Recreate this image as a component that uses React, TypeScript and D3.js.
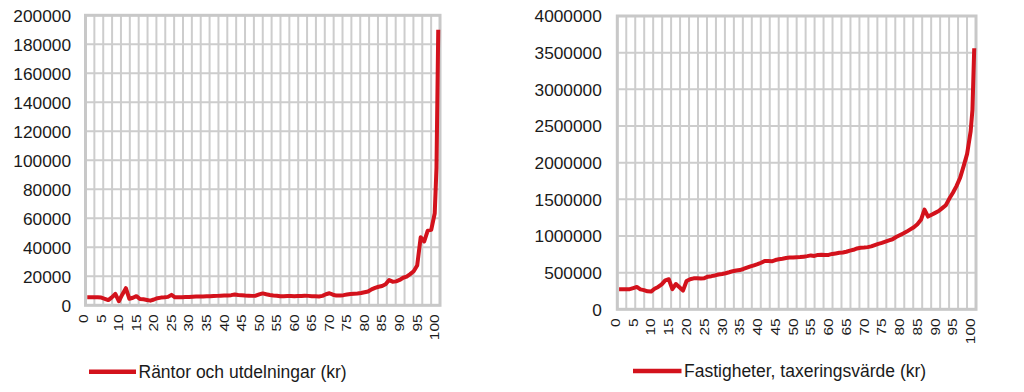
import React from 'react';
import * as d3 from 'd3';

const percentiles = [
  0, 1, 2, 3, 4, 5, 6, 7, 8, 9, 10, 11, 12, 13, 14, 15, 16, 17, 18, 19,
  20, 21, 22, 23, 24, 25, 26, 27, 28, 29, 30, 31, 32, 33, 34, 35, 36, 37, 38, 39,
  40, 41, 42, 43, 44, 45, 46, 47, 48, 49, 50, 51, 52, 53, 54, 55, 56, 57, 58, 59,
  60, 61, 62, 63, 64, 65, 66, 67, 68, 69, 70, 71, 72, 73, 74, 75, 76, 77, 78, 79,
  80, 81, 82, 83, 84, 85, 86, 87, 88, 89, 90, 91, 92, 93, 94, 95, 96, 97, 98, 99,
  99.5, 100,
];

const rantorValues = [
  5500, 5500, 5500, 5500, 5300, 4500, 3600, 5500, 7800, 2800,
  7500, 11800, 4500, 5200, 6300, 4300, 4200, 3700, 3200, 4000,
  4900, 5300, 5500, 5800, 7200, 5500, 5500, 5600, 5700, 5800,
  5900, 6000, 6000, 6100, 6200, 6300, 6400, 6500, 6600, 6700,
  6800, 7000, 7400, 7100, 6900, 6700, 6600, 6500, 6600, 7500,
  8200, 7600, 7100, 6800, 6600, 6200, 6300, 6400, 6400, 6300,
  6400, 6400, 6600, 6500, 6300, 6200, 6100, 6500, 7600, 8300,
  7300, 6700, 6800, 7000, 7400, 7800, 8000, 8200, 8500, 9000,
  9500, 11000, 12000, 12800, 13300, 14500, 17400, 16300, 16500, 17500,
  19000, 19800, 21500, 23500, 27500, 47000, 44000, 51500, 52000, 63500,
  95000, 190000,
];

const fastighetValues = [
  275000, 275000, 275000, 275000, 290000, 305000, 272000, 262000, 245000, 242000,
  280000, 305000, 340000, 395000, 410000, 275000, 345000, 300000, 255000, 385000,
  410000, 422000, 422000, 420000, 425000, 445000, 452000, 462000, 475000, 482000,
  492000, 505000, 520000, 530000, 535000, 550000, 568000, 585000, 600000, 615000,
  635000, 660000, 660000, 655000, 672000, 682000, 690000, 700000, 705000, 705000,
  710000, 712000, 718000, 725000, 735000, 728000, 742000, 745000, 742000, 742000,
  755000, 762000, 770000, 775000, 785000, 800000, 812000, 830000, 840000, 842000,
  848000, 858000, 875000, 892000, 905000, 922000, 940000, 955000, 985000, 1010000,
  1035000, 1060000, 1090000, 1120000, 1160000, 1220000, 1360000, 1265000, 1290000, 1315000,
  1340000, 1380000, 1420000, 1510000, 1590000, 1680000, 1790000, 1950000, 2120000, 2430000,
  2720000, 3560000,
];

const xTickLabels = [0, 5, 10, 15, 20, 25, 30, 35, 40, 45, 50, 55, 60, 65, 70, 75, 80, 85, 90, 95, 100];
const rantorYTicks = [0, 20000, 40000, 60000, 80000, 100000, 120000, 140000, 160000, 180000, 200000];
const fastighetYTicks = [0, 500000, 1000000, 1500000, 2000000, 2500000, 3000000, 3500000, 4000000];
const rantorLegend = 'Räntor och utdelningar (kr)';
const fastighetLegend = 'Fastigheter, taxeringsvärde (kr)';

const FONT = '"Liberation Sans", Arial, sans-serif';
const RED = '#d3121c';
const GRID = '#cdcdcd';
const TEXT = '#1a1a1a';

type PanelProps = {
  left: number; right: number; top: number; bottom: number;
  yTicks: number[]; values: number[];
  labelGap: number;
  legendX1: number; legendX2: number; legendLineY: number; legendTextY: number;
  legend: string;
};

function Panel(p: PanelProps) {
  const x = d3.scaleLinear().domain([-0.5, 100.5]).range([p.left, p.right]);
  const yMax = p.yTicks[p.yTicks.length - 1];
  const y = d3.scaleLinear().domain([0, yMax]).range([p.bottom, p.top]);
  const line = d3.line<number>()
    .x((_, i) => x(percentiles[i]))
    .y((d) => y(d));
  const nV = 40;
  const vGrid = d3.range(nV + 1).map((k) => -0.5 + (k * 101) / nV);
  return (
    <g>
      {vGrid.map((v, i) => (
        <line key={'v' + i} x1={x(v)} x2={x(v)} y1={p.top} y2={p.bottom} stroke={GRID} strokeWidth={2} />
      ))}
      {p.yTicks.map((t, i) => (
        <line key={'h' + i} x1={p.left} x2={p.right} y1={y(t)} y2={y(t)} stroke={GRID} strokeWidth={2} />
      ))}
      <rect x={p.left} y={p.top} width={p.right - p.left} height={p.bottom - p.top}
        fill="none" stroke="#c8c8c8" strokeWidth={3} />
      <path d={line(p.values) || ''} fill="none" stroke={RED} strokeWidth={4}
        strokeLinejoin="round" strokeLinecap="butt" />
      {p.yTicks.map((t, i) => (
        <text key={'yl' + i} x={p.left - p.labelGap} y={y(t)} dy="0.36em" textAnchor="end"
          fontFamily={FONT} fontSize={17.3} fill={TEXT}>{String(t)}</text>
      ))}
      {xTickLabels.map((t, i) => (
        <text key={'xl' + i}
          transform={`translate(${x(t) - 3.8},${p.bottom + 9}) rotate(-90) scale(1,0.84)`}
          dy="0.36em" textAnchor="end" fontFamily={FONT} fontSize={15.5} fill={TEXT}>{String(t)}</text>
      ))}
      <line x1={p.legendX1} x2={p.legendX2} y1={p.legendLineY} y2={p.legendLineY} stroke={RED} strokeWidth={4.5} />
      <text x={p.legendX2 + 2.5} y={p.legendTextY} fontFamily={FONT} fontSize={17.5} fill={TEXT}>{p.legend}</text>
    </g>
  );
}

export default function App() {
  return (
    <svg width={1024} height={392} style={{ position: 'absolute', left: 0, top: 0, background: '#fff' }}>
      <Panel left={85.5} right={440} top={15.3} bottom={305.3} yTicks={rantorYTicks} values={rantorValues}
        labelGap={14.5} legendX1={89} legendX2={136} legendLineY={371.7} legendTextY={377.8} legend={rantorLegend} />
      <Panel left={617.3} right={976} top={16} bottom={309.3} yTicks={fastighetYTicks} values={fastighetValues}
        labelGap={15.5} legendX1={633} legendX2={681.5} legendLineY={371} legendTextY={377} legend={fastighetLegend} />
    </svg>
  );
}
